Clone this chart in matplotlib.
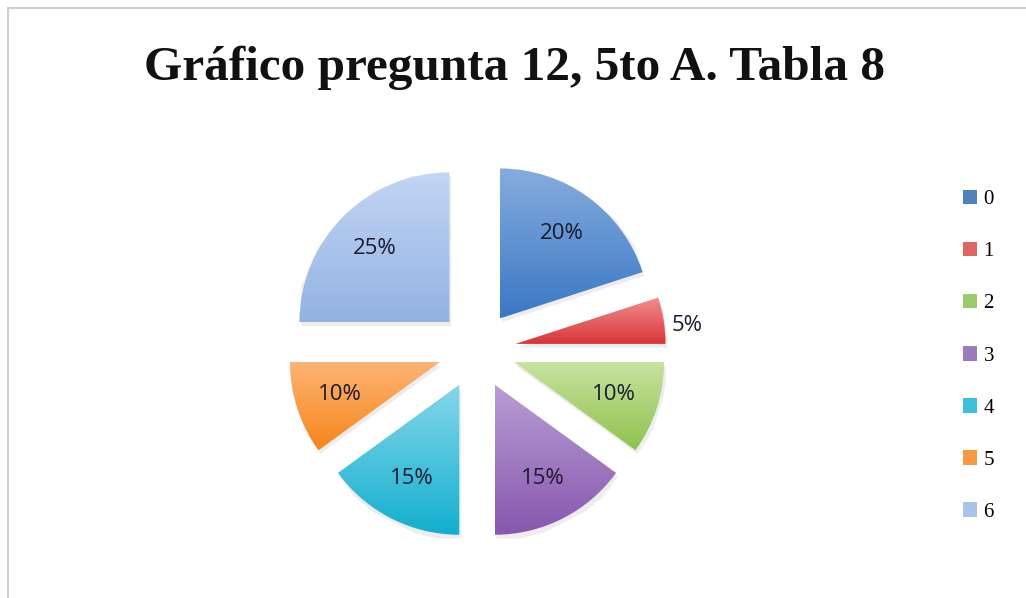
import numpy as np
import matplotlib
matplotlib.use("Agg")
import matplotlib.pyplot as plt
from matplotlib.colors import LinearSegmentedColormap
from matplotlib.patches import Patch
from matplotlib.lines import Line2D

# data
categorias = ["0", "1", "2", "3", "4", "5", "6"]
porcentajes = [20, 5, 10, 15, 15, 10, 25]
titulo = "Gráfico pregunta 12, 5to A. Tabla 8"

# gradient colours (top, bottom) per slice
col_top = ["#86ACDD", "#F28E8E", "#C8E3A0", "#B89DD3", "#86D6EB", "#FDB476", "#C2D6F5"]
col_bot = ["#3A78C5", "#D83537", "#8FC24E", "#8757AE", "#12AFCD", "#F5861A", "#93B2E2"]
col_leg = ["#4F81BD", "#E06666", "#9BCB6B", "#9A7BC0", "#3BC0DA", "#F79A45", "#A8C2EA"]

fig = plt.figure(figsize=(10.26, 5.98), dpi=100)
fig.patch.set_facecolor("white")

# chart frame (left and top edges only are visible)
fig.add_artist(Line2D([8/1026, 8/1026], [0, 1 - 8/598], transform=fig.transFigure,
                      color="#D0D0D0", lw=1.5))
fig.add_artist(Line2D([8/1026, 1], [1 - 8/598, 1 - 8/598], transform=fig.transFigure,
                      color="#D0D0D0", lw=1.5))

fig.text(514/1026, 1 - 68/598, titulo, ha="center", va="center",
         fontsize=35.5, fontweight="bold", family="Liberation Serif", color="#111111")

ax = fig.add_axes([177/1026, 8/598, 600/1026, 480/598])
ax.set_aspect("equal")
ax.axis("off")

explode = [0.26] * len(porcentajes)
wedges, textos, autotextos = ax.pie(
    porcentajes, explode=explode, startangle=90, counterclock=False,
    colors=col_leg, autopct="%d%%", pctdistance=0.7, radius=1,
    textprops=dict(fontsize=16, color="#1B1B2F", family="Open Sans"),
    wedgeprops=dict(linewidth=0))

for i, w in enumerate(wedges):
    ext = w.get_path().get_extents()
    # soft shadow
    sh = plt.Polygon(w.get_path().vertices + np.array([0.012, -0.025]), closed=True,
                     facecolor="#000000", alpha=0.07, lw=0, zorder=0.5)
    ax.add_patch(sh)
    cmap = LinearSegmentedColormap.from_list("g%d" % i, [col_bot[i], col_top[i]])
    grad = np.linspace(0, 1, 256).reshape(-1, 1)
    im = ax.imshow(grad, cmap=cmap, origin="lower", aspect="auto",
                   extent=[ext.x0, ext.x1, ext.y0, ext.y1], zorder=1,
                   interpolation="bilinear")
    im.set_clip_path(w)
    w.set_facecolor("none")
    w.set_zorder(1)

ax.set_xlim(-2, 2)
ax.set_ylim(-1.6, 1.6)

# small slice label goes outside
for i, t in enumerate(autotextos):
    t.set_zorder(3)
    if porcentajes[i] <= 5:
        x, y = t.get_position()
        r = np.hypot(x, y)
        t.set_position((x / r * 1.42, y / r * 1.42 - 0.06))

handles = [Patch(facecolor=c, edgecolor="none") for c in col_leg]
leg = fig.legend(handles, categorias, loc="upper left",
                 bbox_to_anchor=(944/1026, 1 - 171/598), frameon=False,
                 prop=dict(family="Liberation Serif", size=15),
                 handlelength=0.7, handleheight=0.7, handletextpad=0.3,
                 labelspacing=1.56)

fig.savefig("out.png", dpi=100, facecolor="white")
